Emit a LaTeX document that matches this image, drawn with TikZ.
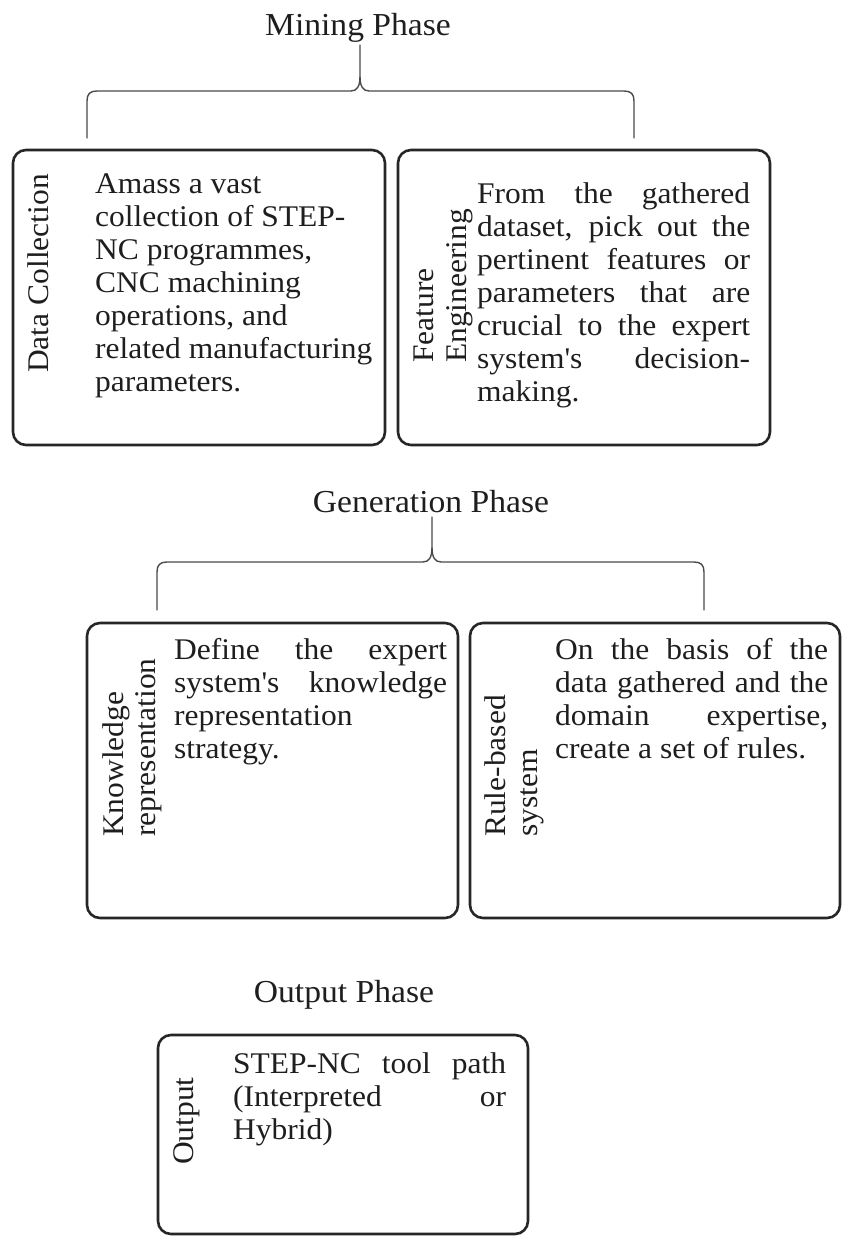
\documentclass[tikz,border=0pt]{standalone}
\usepackage{fontspec}
\setmainfont{Liberation Serif}[FakeStretch=1.05]

\definecolor{ink}{HTML}{1E1E1E}
\definecolor{boxgray}{HTML}{262626}
\definecolor{bracegray}{HTML}{4A4A4A}

% one justified line of a description, spread to the full column width
\newcommand{\jline}[1]{\makebox[273pt][s]{#1}}
% straight apostrophe
\newcommand{\apos}{\textquotesingle}

% curly bracket with straight arms: left x, right x, tip x, bar y, arm-end y, tip y
\newcommand{\phasebrace}[6]{%
  \draw[bracket] (#1,#5) -- (#1,#4+10) .. controls (#1,#4+3) and (#1+3,#4) .. (#1+10,#4)
    -- (#3-9,#4) .. controls (#3-3,#4) and (#3,#4-5) .. (#3,#4-14) -- (#3,#6);
  \draw[bracket] (#3,#4-14) .. controls (#3,#4-5) and (#3+3,#4) .. (#3+9,#4)
    -- (#2-10,#4) .. controls (#2-3,#4) and (#2,#4+3) .. (#2,#4+10) -- (#2,#5);
}

\begin{document}
\begin{tikzpicture}[x=1pt, y=-1pt,
  phasebox/.style={draw=boxgray, line width=2.6pt, rounded corners=13pt, inner sep=0pt, fill=none},
  phasetitle/.style={font=\fontsize{32}{36}\selectfont, text=ink, anchor=base, inner sep=0pt},
  sidelabel/.style={font=\fontsize{30}{33}\selectfont, text=ink, rotate=90, anchor=base west, inner sep=0pt},
  bodytext/.style={font=\fontsize{30}{33}\selectfont, text=ink, anchor=base west, inner sep=0pt},
  bracket/.style={draw=bracegray, line width=1.4pt, line join=round, line cap=round},
]
\useasboundingbox (0,0) rectangle (843,1237);

% ---------------- Mining phase ----------------
\node[phasetitle] (mining) at (358,35) {Mining Phase};
\phasebrace{87}{634}{360}{91}{138}{45}

\node[phasebox, minimum width=372pt, minimum height=295pt] (collect) at (199,297.5) {};
\node[phasebox, minimum width=372pt, minimum height=295pt] (feature) at (584,297.5) {};

\node[sidelabel] (collectlbl) at (48,373) {Data Collection};
\node[bodytext] (collecttxt) at (95,193) {\begin{minipage}[t]{285pt}\raggedright
Amass a vast\\
collection of STEP-\\
NC programmes,\\
CNC machining\\
operations, and\\
related manufacturing\\
parameters.
\end{minipage}};

\node[sidelabel] (featurelblA) at (433,363) {Feature};
\node[sidelabel] (featurelblB) at (466,363) {Engineering};
\node[bodytext] (featuretxt) at (477,203) {\begin{minipage}[t]{273pt}\raggedright
\jline{From the gathered}\\
\jline{dataset, pick out the}\\
\jline{pertinent features or}\\
\jline{parameters that are}\\
\jline{crucial to the expert}\\
\jline{system\apos s decision-}\\
making.
\end{minipage}};

% ---------------- Generation phase ----------------
\node[phasetitle] (generation) at (431,512) {Generation Phase};
\phasebrace{157}{704}{432}{562}{610}{517}

\node[phasebox, minimum width=371pt, minimum height=295pt] (knowledge) at (272.5,770.5) {};
\node[phasebox, minimum width=370pt, minimum height=295pt] (rules) at (655,770.5) {};

\node[sidelabel] (knowledgelblA) at (123,837) {Knowledge};
\node[sidelabel] (knowledgelblB) at (155,837) {representation};
\node[bodytext] (knowledgetxt) at (174,659) {\begin{minipage}[t]{273pt}\raggedright
\jline{Define the expert}\\
\jline{system\apos s knowledge}\\
representation\\
strategy.
\end{minipage}};

\node[sidelabel] (ruleslblA) at (505,837) {Rule-based};
\node[sidelabel] (ruleslblB) at (537,837) {system};
\node[bodytext] (rulestxt) at (555,659) {\begin{minipage}[t]{273pt}\raggedright
\jline{On the basis of the}\\
\jline{data gathered and the}\\
\jline{domain expertise,}\\
create a set of rules.
\end{minipage}};

% ---------------- Output phase ----------------
\node[phasetitle] (outputphase) at (344,1002) {Output Phase};

\node[phasebox, minimum width=370pt, minimum height=199pt] (output) at (343,1134.5) {};
\node[sidelabel] (outputlbl) at (193,1165) {Output};
\node[bodytext] (outputtxt) at (233,1073) {\begin{minipage}[t]{273pt}\raggedright
\jline{STEP-NC tool path}\\
\jline{(Interpreted or}\\
Hybrid)
\end{minipage}};

\end{tikzpicture}
\end{document}
